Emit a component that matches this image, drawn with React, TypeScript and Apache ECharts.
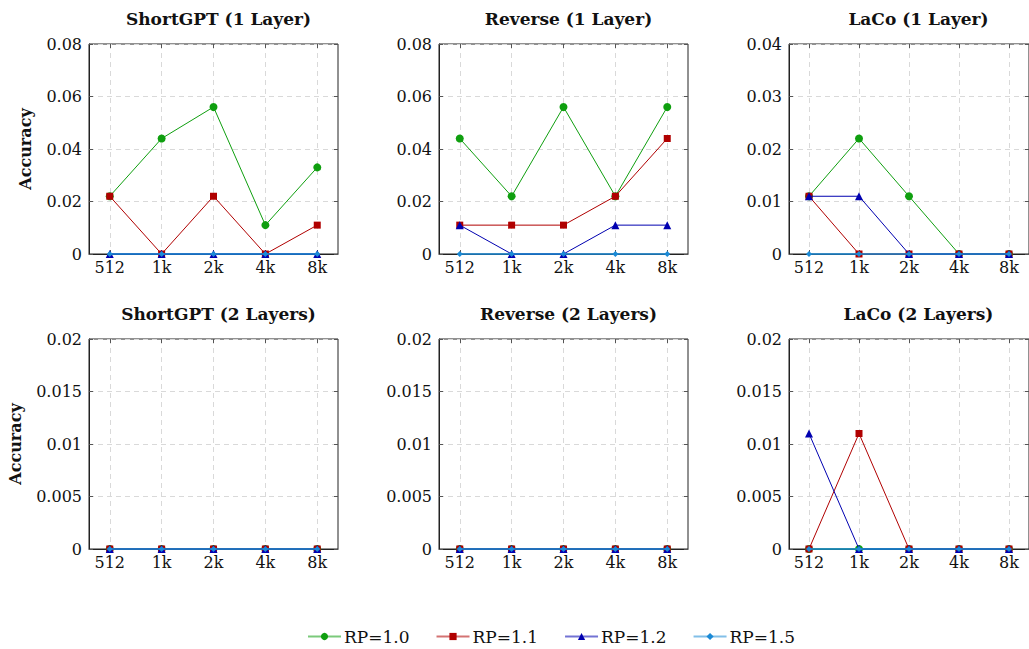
import React, { useEffect, useRef } from "react";
import * as echarts from "echarts";

// Context-length categories on the x axis
const categories = ["512", "1k", "2k", "4k", "8k"];
const seriesNames = ["RP=1.0", "RP=1.1", "RP=1.2", "RP=1.5"];

// ShortGPT, 1 layer removed
const shortGpt1Rp10 = [0.022, 0.044, 0.056, 0.011, 0.033];
const shortGpt1Rp11 = [0.022, 0, 0.022, 0, 0.011];
const shortGpt1Rp12 = [0, 0, 0, 0, 0];
const shortGpt1Rp15 = [0, 0, 0, 0, 0];

// Reverse, 1 layer removed
const reverse1Rp10 = [0.044, 0.022, 0.056, 0.022, 0.056];
const reverse1Rp11 = [0.011, 0.011, 0.011, 0.022, 0.044];
const reverse1Rp12 = [0.011, 0, 0, 0.011, 0.011];
const reverse1Rp15 = [0, 0, 0, 0, 0];

// LaCo, 1 layer removed
const laco1Rp10 = [0.011, 0.022, 0.011, 0, 0];
const laco1Rp11 = [0.011, 0, 0, 0, 0];
const laco1Rp12 = [0.011, 0.011, 0, 0, 0];
const laco1Rp15 = [0, 0, 0, 0, 0];

// ShortGPT, 2 layers removed
const shortGpt2Rp10 = [0, 0, 0, 0, 0];
const shortGpt2Rp11 = [0, 0, 0, 0, 0];
const shortGpt2Rp12 = [0, 0, 0, 0, 0];
const shortGpt2Rp15 = [0, 0, 0, 0, 0];

// Reverse, 2 layers removed
const reverse2Rp10 = [0, 0, 0, 0, 0];
const reverse2Rp11 = [0, 0, 0, 0, 0];
const reverse2Rp12 = [0, 0, 0, 0, 0];
const reverse2Rp15 = [0, 0, 0, 0, 0];

// LaCo, 2 layers removed
const laco2Rp10 = [0, 0, 0, 0, 0];
const laco2Rp11 = [0, 0.011, 0, 0, 0];
const laco2Rp12 = [0.011, 0, 0, 0, 0];
const laco2Rp15 = [0, 0, 0, 0, 0];

const panelTitles = [
  "ShortGPT (1 Layer)",
  "Reverse (1 Layer)",
  "LaCo (1 Layer)",
  "ShortGPT (2 Layers)",
  "Reverse (2 Layers)",
  "LaCo (2 Layers)",
];
const panelYMax = [0.08, 0.08, 0.04, 0.02, 0.02, 0.02];
const panelYStep = [0.02, 0.02, 0.01, 0.005, 0.005, 0.005];
const panelData = [
  [shortGpt1Rp10, shortGpt1Rp11, shortGpt1Rp12, shortGpt1Rp15],
  [reverse1Rp10, reverse1Rp11, reverse1Rp12, reverse1Rp15],
  [laco1Rp10, laco1Rp11, laco1Rp12, laco1Rp15],
  [shortGpt2Rp10, shortGpt2Rp11, shortGpt2Rp12, shortGpt2Rp15],
  [reverse2Rp10, reverse2Rp11, reverse2Rp12, reverse2Rp15],
  [laco2Rp10, laco2Rp11, laco2Rp12, laco2Rp15],
];

const FONT = "DejaVu Serif";
const colors = ["#0f9f0f", "#b00000", "#0000b0", "#1b8ad6"];
const symbols = ["circle", "rect", "triangle", "diamond"];
const symbolSizes = [8, 7, 8, 6];

const colLeft = [89, 439, 789];
const rowTop = [44, 339];
const plotW = 249;
const plotH = 210;
const tickIdx = categories.map((_, i) => i);

export default function App() {
  const ref = useRef<HTMLDivElement>(null);

  useEffect(() => {
    document.body.style.margin = "0";
    if (!ref.current) return;
    const chart = echarts.init(ref.current, null, { renderer: "svg" });

    const grids: any[] = [];
    const xAxes: any[] = [];
    const yAxes: any[] = [];
    const titles: any[] = [];
    const series: any[] = [];

    const gridLine = { show: true, lineStyle: { color: "#d9d9d9", type: [5, 4], width: 1 } };
    const axisLineStyle = { color: "#222", width: 1 };

    for (let p = 0; p < 6; p++) {
      const col = p % 3;
      const row = Math.floor(p / 3);
      const left = colLeft[col];
      const top = rowTop[row];
      grids.push({
        left,
        top,
        width: plotW,
        height: plotH,
        show: true,
        borderColor: "#222",
        borderWidth: 1,
        containLabel: false,
      });
      titles.push({
        text: panelTitles[p],
        left: left + plotW / 2,
        top: row === 0 ? 5 : 300,
        textAlign: "center",
        textStyle: { fontFamily: FONT, fontWeight: "bold", fontSize: 17, color: "#111" },
      });
      // bottom x axis with labels
      xAxes.push({
        type: "value",
        gridIndex: p,
        min: -0.4,
        max: 4.4,
        axisLine: { show: true, onZero: false, lineStyle: axisLineStyle },
        axisTick: { show: true, inside: true, length: 4, customValues: tickIdx, lineStyle: { color: "#555" } },
        axisLabel: {
          show: true,
          customValues: tickIdx,
          formatter: (v: number) => categories[Math.round(v)] ?? "",
          fontFamily: FONT,
          fontSize: 16,
          color: "#111",
          margin: 5,
        },
        splitLine: gridLine,
      });
      // top x axis, ticks only
      xAxes.push({
        type: "value",
        gridIndex: p,
        position: "top",
        min: -0.4,
        max: 4.4,
        axisLine: { show: false, onZero: false },
        axisTick: { show: true, inside: true, length: 4, customValues: tickIdx, lineStyle: { color: "#555" } },
        axisLabel: { show: false },
        splitLine: { show: false },
      });
      yAxes.push({
        type: "value",
        gridIndex: p,
        min: 0,
        max: panelYMax[p],
        interval: panelYStep[p],
        axisLine: { show: true, onZero: false, lineStyle: axisLineStyle },
        axisTick: { show: true, inside: true, length: 4, lineStyle: { color: "#555" } },
        axisLabel: {
          fontFamily: FONT,
          fontSize: 16,
          color: "#111",
          margin: 7,
          formatter: (v: number) => String(parseFloat(v.toFixed(4))),
        },
        splitLine: gridLine,
        name: col === 0 ? "Accuracy" : "",
        nameLocation: "middle",
        nameGap: row === 0 ? 56 : 66,
        nameTextStyle: { fontFamily: FONT, fontWeight: "bold", fontSize: 16, color: "#111" },
      });
      yAxes.push({
        type: "value",
        gridIndex: p,
        position: "right",
        min: 0,
        max: panelYMax[p],
        interval: panelYStep[p],
        axisLine: { show: false, onZero: false },
        axisTick: { show: true, inside: true, length: 4, lineStyle: { color: "#555" } },
        axisLabel: { show: false },
        splitLine: { show: false },
      });

      for (let s = 0; s < 4; s++) {
        series.push({
          type: "line",
          name: seriesNames[s],
          xAxisIndex: p * 2,
          yAxisIndex: p * 2,
          data: panelData[p][s].map((v, j) => [j, v]),
          symbol: symbols[s],
          symbolSize: symbolSizes[s],
          showAllSymbol: true,
          clip: false,
          z: 3 + s,
          lineStyle: { color: colors[s], width: s === 3 ? 1.4 : 1 },
          itemStyle: { color: colors[s], borderWidth: 0 },
          emphasis: { disabled: true },
        });
      }
    }

    chart.setOption({
      animation: false,
      backgroundColor: "#fff",
      title: titles,
      grid: grids,
      xAxis: xAxes,
      yAxis: yAxes,
      series,
      legend: {
        data: seriesNames,
        left: 302,
        top: 623,
        itemGap: 26,
        itemWidth: 33,
        itemHeight: 9,
        lineStyle: { opacity: 0.55 },
        textStyle: { fontFamily: FONT, fontSize: 17, color: "#111", padding: [0, 0, 0, -2] },
        selectedMode: false,
      },
    });

    return () => chart.dispose();
  }, []);

  return <div ref={ref} style={{ width: 1029, height: 649 }} />;
}
